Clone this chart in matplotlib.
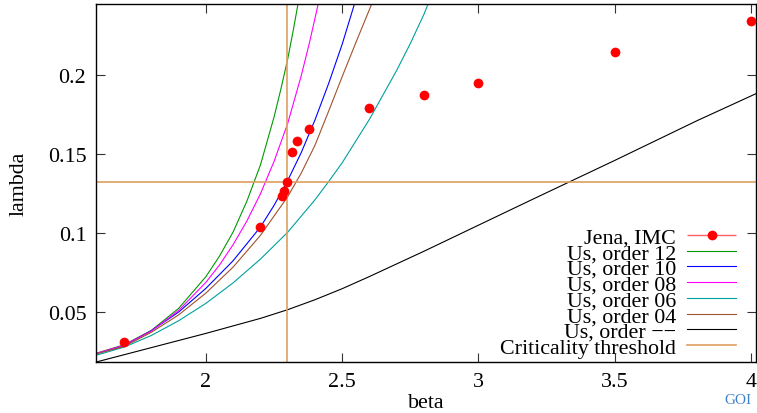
import matplotlib
matplotlib.use('Agg')
import matplotlib.pyplot as plt
from matplotlib.legend_handler import HandlerErrorbar
from matplotlib.container import ErrorbarContainer

# ---- data ----
jena_beta = [1.70, 2.20, 2.280, 2.287, 2.297, 2.317, 2.336, 2.378, 2.60, 2.80, 3.00, 3.50, 4.00]
jena_lambda = [0.0310, 0.1038, 0.1234, 0.1266, 0.1323, 0.1513, 0.1584, 0.1658,
               0.1791, 0.1871, 0.1950, 0.2144, 0.2340]
jena_err = [0.0, 0.0, 0.0, 0.0, 0.0, 0.0, 0.0, 0.0, 0.0, 0.0, 0.0, 0.0, 0.0]

o12_beta = [1.60, 1.70, 1.80, 1.90, 2.00, 2.05, 2.10, 2.15, 2.20, 2.25, 2.275, 2.30, 2.32, 2.34]
o12_lambda = [0.0240, 0.0293, 0.0384, 0.0523, 0.0724, 0.0854, 0.1007, 0.1200, 0.1430, 0.1734,
              0.1910, 0.2100, 0.2278, 0.2470]

o10_beta = [1.60, 1.70, 1.80, 1.90, 2.00, 2.10, 2.20, 2.25, 2.30, 2.35, 2.40, 2.45, 2.50, 2.55]
o10_lambda = [0.0237, 0.0287, 0.0382, 0.0500, 0.0650, 0.0825, 0.1038, 0.1175, 0.1332, 0.1510,
              0.1715, 0.1945, 0.2195, 0.2478]

o08_beta = [1.60, 1.70, 1.80, 1.90, 2.00, 2.05, 2.10, 2.15, 2.20, 2.25, 2.30, 2.35, 2.38, 2.41, 2.415]
o08_lambda = [0.0240, 0.0290, 0.0380, 0.0510, 0.0688, 0.0798, 0.0927, 0.1075, 0.1248, 0.1453,
              0.1693, 0.1997, 0.2205, 0.2434, 0.2470]

o06_beta = [1.60, 1.70, 1.80, 1.90, 2.00, 2.10, 2.20, 2.30, 2.40, 2.45, 2.50, 2.60, 2.70, 2.75, 2.80, 2.815]
o06_lambda = [0.0228, 0.0278, 0.0352, 0.0445, 0.0555, 0.0685, 0.0835, 0.1005, 0.1210, 0.1325,
              0.1445, 0.1720, 0.2030, 0.2200, 0.2385, 0.2450]

o04_beta = [1.60, 1.70, 1.80, 1.90, 2.00, 2.10, 2.20, 2.30, 2.35, 2.40, 2.45, 2.50, 2.55, 2.60, 2.615]
o04_lambda = [0.0237, 0.0282, 0.0372, 0.0482, 0.0620, 0.0785, 0.0985, 0.1230, 0.1380, 0.1555,
              0.1770, 0.1990, 0.2205, 0.2415, 0.2480]

o00_beta = [1.60, 1.80, 2.00, 2.20, 2.30, 2.40, 2.50, 2.60, 2.80, 3.00, 3.20, 3.50, 3.80, 4.02]
o00_lambda = [0.0185, 0.0275, 0.0365, 0.0460, 0.0515, 0.0578, 0.0648, 0.0725, 0.0885, 0.1050,
              0.1215, 0.1460, 0.1710, 0.1884]

beta_c = 2.296
lambda_c = 0.1325

xticks = [2, 2.5, 3, 3.5, 4]
xticklabels = ['2', '2.5', '3', '3.5', '4']
yticks = [0.05, 0.1, 0.15, 0.2]
yticklabels = ['0.05', '0.1', '0.15', '0.2']

# ---- figure ----
plt.rcParams['font.family'] = 'serif'
plt.rcParams['font.serif'] = ['Liberation Serif', 'DejaVu Serif']
plt.rcParams['font.size'] = 15.8

fig = plt.figure(figsize=(7.57, 4.14), dpi=100)
L, R, T, B = 96, 756, 5, 363
W, H = 757, 414
ax = fig.add_axes([L / W, 1 - B / H, (R - L) / W, (B - T) / H])

lw = 0.8
eb = ax.errorbar(jena_beta, jena_lambda, xerr=jena_err, fmt='o', color='#ff0000',
                 ecolor='#ff6060', elinewidth=1.0, capsize=4, capthick=1.0,
                 markersize=7, markeredgewidth=0, zorder=10, label='Jena, IMC')
l12, = ax.plot(o12_beta, o12_lambda, color='#009a00', lw=lw, label='Us, order 12')
l10, = ax.plot(o10_beta, o10_lambda, color='#0000ff', lw=lw, label='Us, order 10')
l08, = ax.plot(o08_beta, o08_lambda, color='#ff00ff', lw=lw, label='Us, order 08')
l06, = ax.plot(o06_beta, o06_lambda, color='#00a0a0', lw=lw, label='Us, order 06')
l04, = ax.plot(o04_beta, o04_lambda, color='#a0522d', lw=lw, label='Us, order 04')
l00, = ax.plot(o00_beta, o00_lambda, color='#000000', lw=lw, label='Us, order \u2212\u2212')
lc = ax.axvline(beta_c, color='#dda060', lw=1.2, label='Criticality threshold')
ax.axhline(lambda_c, color='#dda060', lw=1.2)

ax.set_xlim(1.597, 4.018)
ax.set_ylim(0.0184, 0.245)
ax.set_xticks(xticks)
ax.set_xticklabels(xticklabels)
ax.set_yticks(yticks)
ax.set_yticklabels(yticklabels)
ax.tick_params(direction='in', length=6.5, width=0.8, top=True, right=True,
               color='#333333', pad=7)
for s in ax.spines.values():
    s.set_linewidth(1.0)

ax.set_xlabel('beta', labelpad=2)
ax.set_ylabel('lambda', labelpad=14)

handles = [eb, l12, l10, l08, l06, l04, l00, lc]
labels = [h.get_label() for h in handles]
leg = ax.legend(handles, labels, loc='lower right', bbox_to_anchor=(0.9697, 0.012),
                frameon=False, markerfirst=False, labelspacing=-0.21,
                handlelength=2.23, handletextpad=0.5, borderpad=0, borderaxespad=0,
                handler_map={ErrorbarContainer: HandlerErrorbar(xerr_size=1.1)})

fig.text(724 / W, 1 - 404 / H, 'GOI', color='#3f7fc4', fontsize=11)

fig.savefig('out.png', dpi=100)
